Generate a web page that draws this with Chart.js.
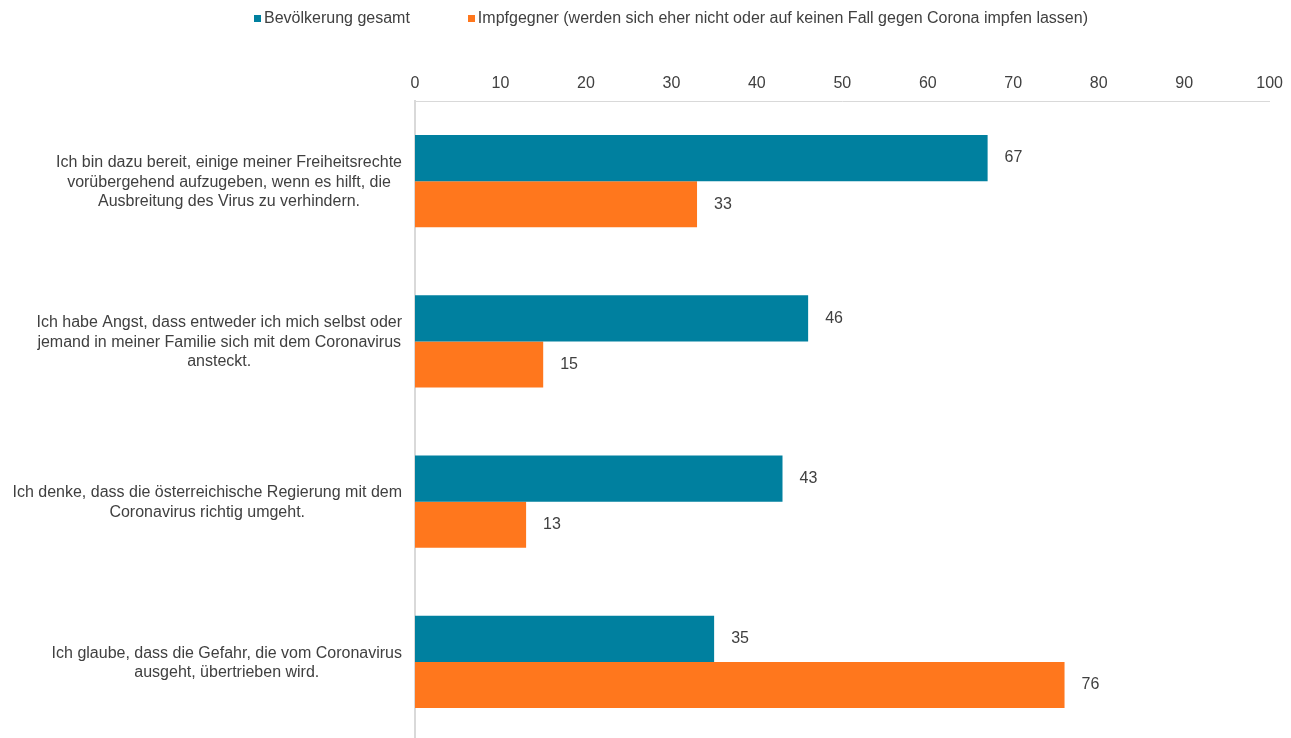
<!DOCTYPE html>
<html lang="de">
<head>
<meta charset="utf-8">
<title>Einstellungen zu Corona</title>
<script src="https://cdn.jsdelivr.net/npm/chart.js@4/dist/chart.umd.min.js"></script>
<style>
    html, body { margin: 0; padding: 0; background: #fff; overflow: hidden; }
    #wrap { position: relative; width: 1291px; height: 738px; }
    #chart { position: absolute; left: 0; top: 0; }
    .legend { position: absolute; left: 254px; top: 9px; font: 16px "Liberation Sans", Arial, sans-serif; color: #404040; white-space: nowrap; }
    .legend span.item { margin-right: 58px; }
    .legend i { display: inline-block; width: 7px; height: 7px; margin-right: 3px; vertical-align: 1px; }
</style>
</head>
<body>
<div id="wrap">
    <canvas id="chart" width="1291" height="742"></canvas>
    <div class="legend" id="legend"></div>
</div>
<script>
// ==========================================
// Data
// ==========================================
var statements = [
    ["Ich bin dazu bereit, einige meiner Freiheitsrechte", "vorübergehend aufzugeben, wenn es hilft, die", "Ausbreitung des Virus zu verhindern."],
    ["Ich habe Angst, dass entweder ich mich selbst oder", "jemand in meiner Familie sich mit dem Coronavirus", "ansteckt."],
    ["Ich denke, dass die österreichische Regierung mit dem", "Coronavirus richtig umgeht."],
    ["Ich glaube, dass die Gefahr, die vom Coronavirus", "ausgeht, übertrieben wird."]
];
var seriesNames = ["Bevölkerung gesamt", "Impfgegner (werden sich eher nicht oder auf keinen Fall gegen Corona impfen lassen)"];
var bevoelkerung = [67, 46, 43, 35];
var impfgegner = [33, 15, 13, 76];
var axisMax = 100;
var axisStep = 10;

var FONT = '"Liberation Sans", Arial, sans-serif';
var TEXT = '#404040';
var colors = ['#00809f', '#ff771d'];

// ==========================================
// Plugins: block-centred category labels + value labels
// ==========================================
var categoryLabels = {
    id: 'categoryLabels',
    afterDraw: function(chart) {
        var ctx = chart.ctx;
        var yScale = chart.scales.y;
        var right = chart.chartArea.left - 13;
        ctx.save();
        ctx.font = '16px ' + FONT;
        ctx.fillStyle = TEXT;
        ctx.textAlign = 'center';
        ctx.textBaseline = 'middle';
        statements.forEach(function(lines, i) {
            var widest = Math.max.apply(null, lines.map(l => ctx.measureText(l).width));
            var cx = right - widest / 2;
            var cy = yScale.getPixelForTick(i) + 1;
            var lh = 19.5;
            var y0 = cy - (lines.length - 1) * lh / 2;
            lines.forEach(function(line, k) {
                ctx.fillText(line, cx, y0 + k * lh);
            });
        });
        ctx.restore();
    }
};

var valueLabels = {
    id: 'valueLabels',
    afterDatasetsDraw: function(chart) {
        var ctx = chart.ctx;
        ctx.save();
        ctx.font = '16px ' + FONT;
        ctx.fillStyle = TEXT;
        ctx.textAlign = 'left';
        ctx.textBaseline = 'middle';
        chart.data.datasets.forEach(function(ds, d) {
            chart.getDatasetMeta(d).data.forEach(function(bar, i) {
                ctx.fillText(ds.data[i], bar.x + 17, bar.y);
            });
        });
        ctx.restore();
    }
};

// ==========================================
// Legend (HTML)
// ==========================================
document.getElementById('legend').innerHTML = seriesNames.map(function(name, i) {
    return '<span class="item"><i style="background:' + colors[i] + '"></i>' + name + '</span>';
}).join('');

// ==========================================
// Chart
// ==========================================
new Chart(document.getElementById('chart'), {
    type: 'bar',
    data: {
        labels: statements,
        datasets: [
            { label: seriesNames[0], data: bevoelkerung, backgroundColor: colors[0] },
            { label: seriesNames[1], data: impfgegner, backgroundColor: colors[1] }
        ]
    },
    options: {
        indexAxis: 'y',
        responsive: false,
        animation: false,
        barPercentage: 1,
        categoryPercentage: 0.575,
        layout: { padding: { top: 60, right: 5, left: 0, bottom: 0 } },
        plugins: {
            legend: { display: false },
            tooltip: { enabled: false }
        },
        scales: {
            x: {
                position: 'top',
                min: 0,
                max: axisMax,
                grid: { display: false, drawTicks: false },
                border: { color: '#d9d9d9', width: 1 },
                ticks: { stepSize: axisStep, padding: 8, color: TEXT, font: { family: FONT, size: 16 } },
                afterFit: function(s) { s.height = 41; }
            },
            y: {
                grid: { display: false, drawTicks: false },
                border: { color: '#d9d9d9', width: 2 },
                ticks: { display: false },
                afterFit: function(s) { s.width = 415; }
            }
        }
    },
    plugins: [categoryLabels, valueLabels]
});
</script>
</body>
</html>
